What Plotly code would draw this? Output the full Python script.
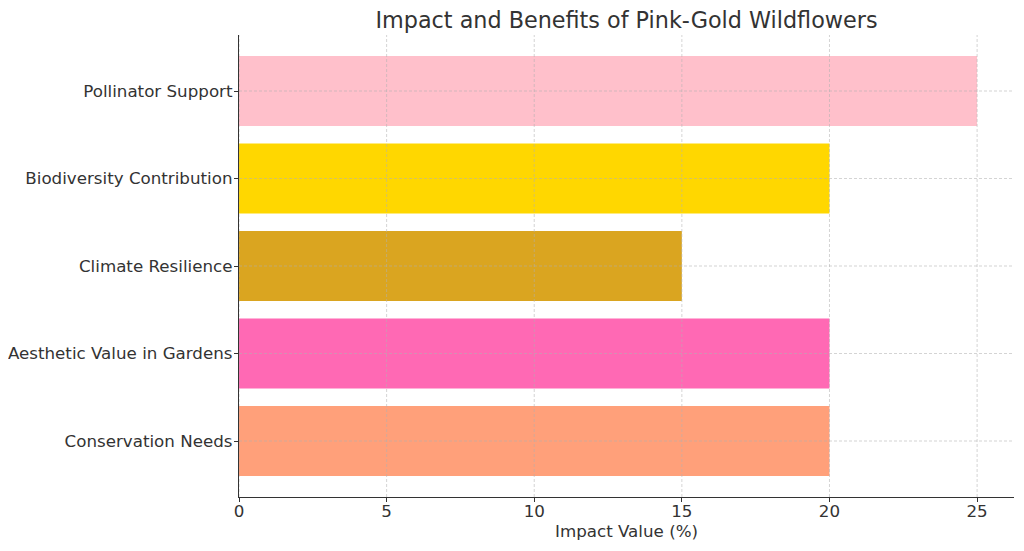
import plotly.graph_objects as go

categories = ["Pollinator Support", "Biodiversity Contribution", "Climate Resilience",
              "Aesthetic Value in Gardens", "Conservation Needs"]
values = [25, 20, 15, 20, 20]
colors = ["#FFC0CB", "#FFD700", "#DAA520", "#FF69B4", "#FFA07A"]
x_ticks = [0, 5, 10, 15, 20, 25]

fig = go.Figure(go.Bar(
    y=categories, x=values, orientation="h",
    marker=dict(color=colors, line=dict(width=0)),
    width=0.8,
))

font_color = "#333333"
grid_color = "rgba(176,176,176,0.55)"

# dashed grid drawn above the bars (as in the reference), placed at the tick positions
shapes = []
for t in x_ticks:
    shapes.append(dict(type="line", xref="x", yref="paper", x0=t, x1=t, y0=0, y1=1,
                       layer="above", line=dict(color=grid_color, width=1, dash="3px,2px")))
for c in categories:
    shapes.append(dict(type="line", xref="paper", yref="y", x0=0, x1=1, y0=c, y1=c,
                       layer="above", line=dict(color=grid_color, width=1, dash="3px,2px")))

W, H = 1016, 543  # page body has an 8px margin
fig.update_layout(
    width=W, height=H,
    margin=dict(l=231, r=10, t=27, b=54, autoexpand=False),
    paper_bgcolor="white", plot_bgcolor="white",
    font=dict(family="DejaVu Sans", size=16.7, color=font_color),
    title=dict(text="Impact and Benefits of Pink-Gold Wildflowers",
               x=0.5, xref="paper", xanchor="center",
               y=1 - 12/H, yanchor="middle",
               font=dict(size=22.3, color=font_color)),
    showlegend=False,
    bargap=0.2,
    shapes=shapes,
)
fig.update_xaxes(
    range=[0, 26.25], tickvals=x_ticks, ticks="outside", ticklen=4, tickwidth=1,
    tickcolor=font_color, showline=True, linecolor=font_color, linewidth=1.3,
    showgrid=False, zeroline=False, automargin=False, ticklabelstandoff=-5,
    title=dict(text="Impact Value (%)", standoff=0, font=dict(size=16.7)),
)
fig.update_yaxes(
    categoryorder="array", categoryarray=categories[::-1],
    range=[-0.64, 4.64], ticks="outside", ticklen=4, tickwidth=1,
    tickcolor=font_color, showline=True, linecolor=font_color, linewidth=1.3,
    showgrid=False, zeroline=False, automargin=False, ticklabelstandoff=-2,
)

fig.write_html("out.html")
